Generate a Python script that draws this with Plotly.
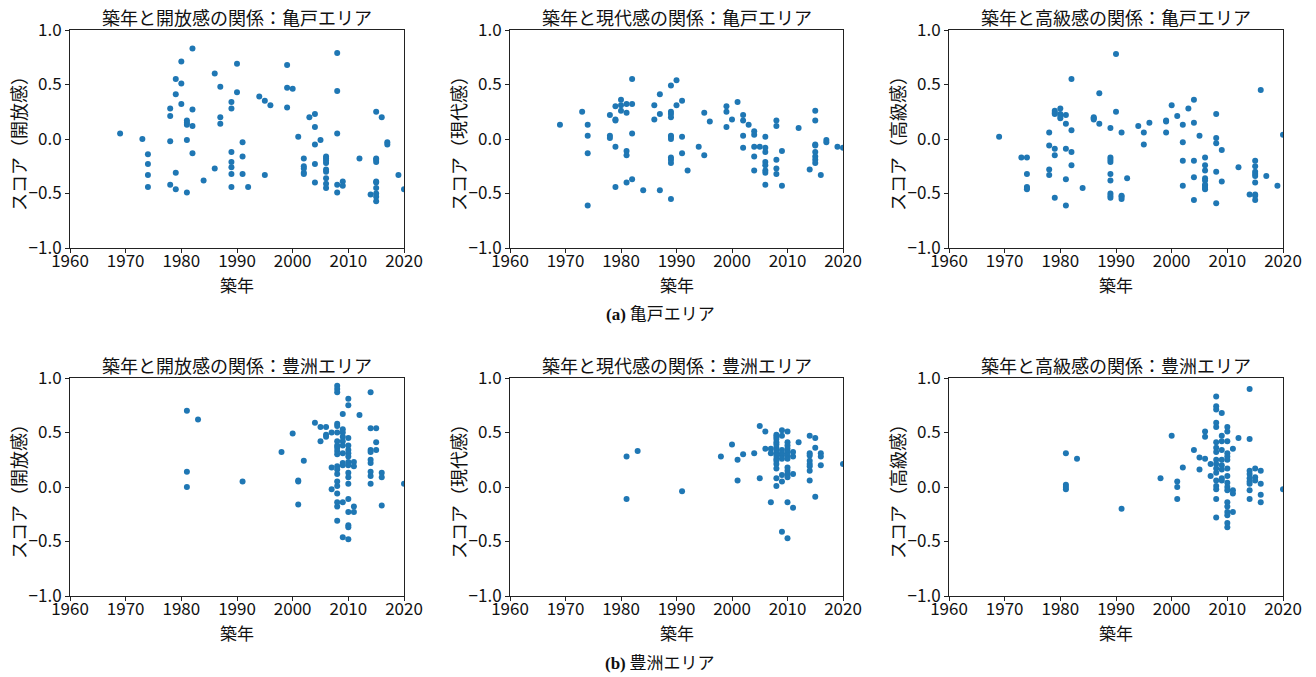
import plotly.graph_objects as go

# ---------------- data ----------------
x_ticks = [1960, 1970, 1980, 1990, 2000, 2010, 2020]
y_ticks = [-1.0, -0.5, 0.0, 0.5, 1.0]

# 亀戸エリア : 開放感
kameido_open_years = [1969, 1973, 1974, 1978, 1979, 1980, 1981, 1982, 1984, 1986, 1987, 1989, 1990, 1991,
                      1992, 1994, 1995, 1996, 1999, 2000, 2001, 2002, 2003, 2004, 2005, 2006, 2008, 2009,
                      2012, 2014, 2015, 2016, 2017, 2019, 2020]
kameido_open_scores = [[0.05], [0.00], [-0.14, -0.23, -0.33, -0.44], [0.28, 0.21, -0.02, -0.42],
                       [0.55, 0.41, -0.31, -0.46], [0.71, 0.51, 0.32], [0.17, 0.15, 0.13, -0.01, -0.49],
                       [0.83, 0.27, 0.12, -0.13], [-0.38], [0.60, -0.27], [0.48, 0.20, 0.14],
                       [0.34, 0.28, -0.12, -0.21, -0.26, -0.32, -0.44], [0.69, 0.43], [-0.03, -0.16, -0.32],
                       [-0.44], [0.39], [0.35, -0.33], [0.31], [0.68, 0.47, 0.29], [0.46], [0.02],
                       [-0.18, -0.25, -0.27, -0.31, -0.32], [0.20], [0.23, 0.11, -0.05, -0.23, -0.40], [-0.01],
                       [-0.16, -0.18, -0.20, -0.22, -0.28, -0.30, -0.36, -0.41, -0.45],
                       [0.79, 0.44, 0.05, -0.42, -0.49], [-0.39, -0.43], [-0.18], [-0.51],
                       [0.25, -0.18, -0.19, -0.21, -0.39, -0.40, -0.45, -0.50, -0.53, -0.57], [0.20],
                       [-0.03, -0.05], [-0.33], [-0.46]]

# 亀戸エリア : 現代感
kameido_modern_years = [1969, 1973, 1974, 1978, 1979, 1980, 1981, 1982, 1984, 1986, 1987, 1989, 1990, 1991,
                        1992, 1994, 1995, 1996, 1999, 2000, 2001, 2002, 2003, 2004, 2005, 2006, 2008, 2009,
                        2012, 2014, 2015, 2016, 2017, 2019, 2020]
kameido_modern_scores = [[0.13], [0.25], [0.13, 0.03, -0.13, -0.61], [0.22, 0.03, 0.01],
                         [0.30, 0.18, 0.17, -0.07, -0.44], [0.36, 0.31, 0.26], [0.32, 0.24, -0.11, -0.15, -0.40],
                         [0.55, 0.32, 0.05, -0.37], [-0.47], [0.31, 0.18], [0.41, 0.23, -0.47],
                         [0.49, 0.25, 0.23, 0.20, 0.03, 0.02, 0.00, -0.17, -0.19, -0.22, -0.55], [0.54, 0.31],
                         [0.35, 0.02, -0.13], [-0.29], [-0.07], [0.24, -0.15], [0.16], [0.30, 0.25, 0.11],
                         [0.18], [0.34], [0.22, 0.17, 0.03, -0.08], [0.13], [0.07, 0.04, -0.07, -0.16, -0.29],
                         [-0.07], [0.02, -0.08, -0.12, -0.21, -0.24, -0.29, -0.31, -0.42],
                         [0.17, 0.12, -0.19, -0.27, -0.32], [-0.11, -0.43], [0.10], [-0.28],
                         [0.26, 0.17, -0.05, -0.06, -0.12, -0.16, -0.19, -0.22], [-0.33], [-0.01, -0.03],
                         [-0.07], [-0.08]]

# 亀戸エリア : 高級感
kameido_luxury_years = [1969, 1973, 1974, 1978, 1979, 1980, 1981, 1982, 1984, 1986, 1987, 1989, 1990, 1991,
                        1992, 1994, 1995, 1996, 1999, 2000, 2001, 2002, 2003, 2004, 2005, 2006, 2008, 2009,
                        2012, 2014, 2015, 2016, 2017, 2019, 2020]
kameido_luxury_scores = [[0.02], [-0.17], [-0.17, -0.32, -0.44, -0.45, -0.46], [0.06, -0.06, -0.28, -0.33],
                         [0.26, 0.24, 0.23, -0.09, -0.15, -0.54], [0.28, 0.23, 0.21, 0.19],
                         [0.22, 0.14, -0.09, -0.37, -0.61], [0.55, 0.08, -0.12, -0.24], [-0.45],
                         [0.20, 0.19, 0.18], [0.42, 0.14],
                         [0.10, -0.17, -0.19, -0.21, -0.32, -0.38, -0.50, -0.52, -0.54], [0.78, 0.25],
                         [0.06, -0.52, -0.53, -0.55], [-0.36], [0.12], [0.06, -0.05], [0.15],
                         [0.17, 0.16, 0.06], [0.31], [0.21], [0.13, -0.03, -0.20, -0.43], [0.28],
                         [0.36, 0.15, -0.20, -0.35, -0.56], [0.03],
                         [-0.17, -0.24, -0.29, -0.36, -0.38, -0.42, -0.43, -0.45, -0.46],
                         [0.23, 0.01, -0.04, -0.30, -0.59], [-0.10, -0.39], [-0.26], [-0.51],
                         [-0.20, -0.25, -0.30, -0.32, -0.34, -0.40, -0.51, -0.52, -0.56], [0.45], [-0.34],
                         [-0.43], [0.04]]

# 豊洲エリア : 開放感
toyosu_open_years = [1981, 1983, 1991, 1998, 2000, 2001, 2002, 2004, 2005, 2006, 2007, 2008, 2009, 2010,
                     2011, 2012, 2014, 2015, 2016, 2020]
toyosu_open_scores = [[0.70, 0.14, 0.00], [0.62], [0.05], [0.32], [0.49], [0.06, 0.05, -0.16], [0.24], [0.59],
                      [0.55, 0.42], [0.55, 0.48, 0.46], [0.50, 0.18, -0.02],
                      [0.93, 0.90, 0.87, 0.58, 0.56, 0.50, 0.42, 0.38, 0.36, 0.33, 0.30, 0.19, 0.16, 0.12,
                       0.05, 0.01, -0.06, -0.14, -0.18, -0.31],
                      [0.67, 0.53, 0.50, 0.46, 0.42, 0.38, 0.31, 0.22, 0.20, -0.14, -0.46],
                      [0.81, 0.75, 0.45, 0.38, 0.34, 0.31, 0.28, 0.23, 0.20, 0.13, 0.09, 0.03, -0.11, -0.23,
                       -0.35, -0.37, -0.48],
                      [0.23, 0.19, -0.18, -0.23], [0.66], [0.87, 0.54, 0.34, 0.32, 0.25, 0.22, 0.14, 0.10, 0.03],
                      [0.54, 0.41, 0.34], [0.13, 0.09, -0.17], [0.03]]

# 豊洲エリア : 現代感
toyosu_modern_years = [1981, 1983, 1991, 1998, 2000, 2001, 2002, 2004, 2005, 2006, 2007, 2008, 2009, 2010,
                       2011, 2012, 2014, 2015, 2016, 2020]
toyosu_modern_scores = [[0.28, -0.11], [0.33], [-0.04], [0.28], [0.39], [0.25, 0.06], [0.30], [0.31],
                        [0.56, 0.08], [0.51, 0.35], [0.35, 0.31, -0.14],
                        [0.48, 0.46, 0.44, 0.41, 0.39, 0.36, 0.34, 0.31, 0.29, 0.26, 0.24, 0.21, 0.17, 0.08,
                         0.01],
                        [0.52, 0.47, 0.34, 0.31, 0.29, 0.26, 0.11, 0.05, -0.41],
                        [0.51, 0.41, 0.38, 0.35, 0.32, 0.29, 0.26, 0.18, 0.15, 0.12, 0.09, -0.14, -0.47],
                        [0.32, 0.28, 0.12, -0.19], [0.41], [0.47, 0.31, 0.29, 0.24, 0.21, 0.19, 0.15, 0.06],
                        [0.45, 0.36, -0.09], [0.31, 0.28, 0.20], [0.21]]

# 豊洲エリア : 高級感
toyosu_luxury_years = [1981, 1983, 1991, 1998, 2000, 2001, 2002, 2004, 2005, 2006, 2007, 2008, 2009, 2010,
                       2011, 2012, 2014, 2015, 2016, 2020]
toyosu_luxury_scores = [[0.31, 0.02, 0.00, -0.02], [0.26], [-0.20], [0.08], [0.47], [0.05, 0.00, -0.11], [0.18],
                        [0.34], [0.27, 0.16], [0.51, 0.46, 0.26], [0.21, 0.10],
                        [0.83, 0.74, 0.71, 0.59, 0.55, 0.41, 0.36, 0.32, 0.25, 0.21, 0.17, 0.13, 0.06, 0.01,
                         -0.02, -0.11, -0.28],
                        [0.68, 0.47, 0.42, 0.34, 0.25, 0.20, 0.16, 0.08, 0.06],
                        [0.55, 0.51, 0.42, 0.31, 0.28, 0.25, 0.17, 0.10, 0.04, 0.00, -0.03, -0.14, -0.18, -0.23,
                         -0.26, -0.33, -0.37],
                        [0.35, -0.03, -0.06, -0.23], [0.45],
                        [0.90, 0.44, 0.15, 0.12, 0.08, 0.05, 0.03, -0.03, -0.11],
                        [0.17, 0.09, 0.06], [0.15, 0.03, -0.07, -0.14], [-0.02]]

areas = ["亀戸エリア", "豊洲エリア"]
metrics = ["開放感", "現代感", "高級感"]
captions = ["(a)", "(b)"]

panel_data = [
    [(kameido_open_years, kameido_open_scores), (kameido_modern_years, kameido_modern_scores),
     (kameido_luxury_years, kameido_luxury_scores)],
    [(toyosu_open_years, toyosu_open_scores), (toyosu_modern_years, toyosu_modern_scores),
     (toyosu_luxury_years, toyosu_luxury_scores)],
]

# ---------------- layout ----------------
W, H = 1316, 677
FONT = "Noto Sans CJK JP"
COLOR = "#1f77b4"

x_px = [(70, 404), (510, 843), (949, 1283)]
y_px = [(30, 248), (378, 596)]


def px(x):
    return x / W


def py(y):
    return 1 - y / H


fig = go.Figure()
annotations = []
layout_axes = {}

for r in range(2):
    for c in range(3):
        idx = r * 3 + c + 1
        years, scores = panel_data[r][c]
        xs, ys = [], []
        for yr, vals in zip(years, scores):
            for v in vals:
                xs.append(yr)
                ys.append(v)
        xname = "x" if idx == 1 else f"x{idx}"
        yname = "y" if idx == 1 else f"y{idx}"
        fig.add_trace(go.Scatter(x=xs, y=ys, mode="markers", xaxis=xname, yaxis=yname,
                                 marker=dict(color=COLOR, size=6, line=dict(width=0)),
                                 showlegend=False, cliponaxis=True))
        axis_common = dict(showgrid=False, zeroline=False, showline=True, linecolor="#222", linewidth=1,
                           mirror=True, ticks="outside", ticklen=4, tickwidth=1, tickcolor="#222",
                           automargin=False,
                           tickfont=dict(family=FONT, size=17, color="#111"))
        layout_axes["xaxis" if idx == 1 else f"xaxis{idx}"] = dict(
            axis_common, domain=[px(x_px[c][0]), px(x_px[c][1])], range=[1960, 2020],
            tickvals=x_ticks, ticktext=[str(t) for t in x_ticks], anchor=yname, ticklabelstandoff=-6)
        layout_axes["yaxis" if idx == 1 else f"yaxis{idx}"] = dict(
            axis_common, domain=[py(y_px[r][1]), py(y_px[r][0])], range=[-1, 1],
            tickvals=y_ticks, tickformat=".1f", anchor=xname, ticklabelstandoff=0)

        cx = (x_px[c][0] + x_px[c][1]) / 2
        cy = (y_px[r][0] + y_px[r][1]) / 2
        common_ann = dict(xref="paper", yref="paper", showarrow=False, xanchor="center", yanchor="middle")
        # panel title
        annotations.append(dict(common_ann, text=f"築年と{metrics[c]}の関係：{areas[r]}",
                                x=px(cx), y=py(y_px[r][0] - 13),
                                font=dict(family=FONT, size=18, color="#111")))
        # x label
        annotations.append(dict(common_ann, text="築年", x=px(cx), y=py(y_px[r][1] + 36),
                                font=dict(family=FONT, size=17, color="#111")))
        # y label
        annotations.append(dict(common_ann, text=f"スコア（{metrics[c]}）",
                                x=px(x_px[c][0] - 52), y=py(cy), textangle=-90,
                                font=dict(family=FONT, size=18, color="#111")))
    # caption
    annotations.append(dict(xref="paper", yref="paper", showarrow=False, xanchor="center", yanchor="middle",
                            text=f"<span style='font-family:Liberation Serif'><b>{captions[r]}</b></span> {areas[r]}",
                            x=px(660), y=py(y_px[r][1] + 65),
                            font=dict(family=FONT, size=17, color="#111")))

fig.update_layout(width=W, height=H, margin=dict(l=0, r=0, t=0, b=0), plot_bgcolor="white",
                  paper_bgcolor="white", annotations=annotations, **layout_axes)

fig.write_html("out.html", config={"displayModeBar": False},
               post_script="document.body.style.margin='0';")
